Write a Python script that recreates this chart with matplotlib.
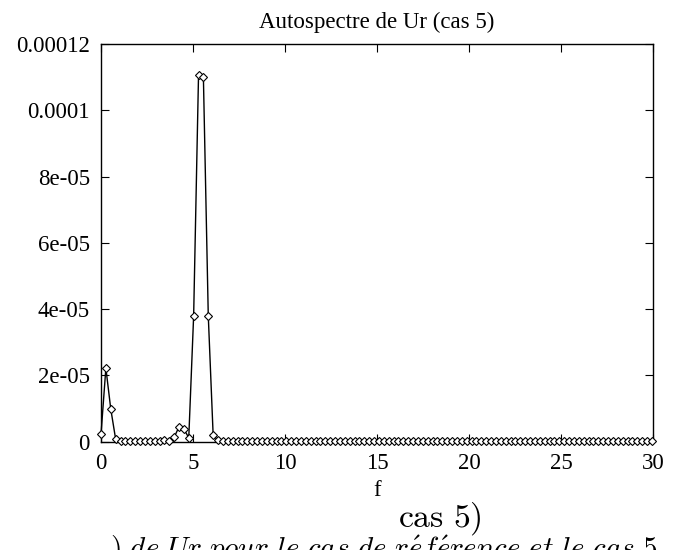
import numpy as np
import matplotlib
matplotlib.use("Agg")
import matplotlib.pyplot as plt

plt.rcParams["mathtext.fontset"] = "cm"

# frequency step of the spectrum
df = 0.265

# autospectrum values (units of 1e-6)
psd_e6 = [
    2.2, 22.2, 9.9, 0.8, 0.3, 0.2, 0.2, 0.2, 0.2, 0.2,
    0.2, 0.3, 0.3, 0.5, 0.2, 1.3, 4.5, 3.8, 1.2, 38.0,
    110.5, 110.0, 38.0, 2.0, 0.4, 0.3, 0.3, 0.3, 0.3, 0.3,
    0.3, 0.3, 0.3, 0.3, 0.3, 0.3, 0.3, 0.3, 0.3, 0.3,
    0.3, 0.3, 0.3, 0.3, 0.3, 0.3, 0.3, 0.3, 0.3, 0.3,
    0.3, 0.3, 0.3, 0.3, 0.3, 0.3, 0.3, 0.3, 0.3, 0.3,
    0.3, 0.3, 0.3, 0.3, 0.3, 0.3, 0.3, 0.3, 0.3, 0.3,
    0.3, 0.3, 0.3, 0.3, 0.3, 0.3, 0.3, 0.3, 0.3, 0.3,
    0.3, 0.3, 0.3, 0.3, 0.3, 0.3, 0.3, 0.3, 0.3, 0.3,
    0.3, 0.3, 0.3, 0.3, 0.3, 0.3, 0.3, 0.3, 0.3, 0.3,
    0.3, 0.3, 0.3, 0.3, 0.3, 0.3, 0.3, 0.3, 0.3, 0.3,
    0.3, 0.3, 0.3, 0.3,
]
psd = np.array(psd_e6) * 1e-6
freq = np.arange(len(psd)) * df

xticks = [0, 5, 10, 15, 20, 25, 30]
yticks = [0, 2e-5, 4e-5, 6e-5, 8e-5, 1e-4, 1.2e-4]
ytick_labels = ["0", "2e-05", "4e-05", "6e-05", "8e-05", "0.0001", "0.00012"]

title = "Autospectre de Ur (cas 5)"
xlabel = "f"
caption_top = r"$\mathrm{cas\ 5)}$"
caption_bottom = r"$)\ de\ Ur\ pour\ le\ cas\ de\ r\acute{e}f\acute{e}rence\ et\ le\ cas\ 5$"

W, H = 677, 550
fig = plt.figure(figsize=(W / 100, H / 100), dpi=100)
serif = "Liberation Serif"
fs = 16.5

left, right, top, bottom = 101, 653, 44, 441.7
ax = fig.add_axes([left / W, 1 - bottom / H, (right - left) / W, (bottom - top) / H])

ax.plot(freq, psd, color="black", lw=1.0, marker="D", ms=4.2,
        mfc="white", mec="black", mew=0.8, clip_on=False, zorder=3)

ax.set_xlim(0, 30)
ax.set_ylim(0, 1.2e-4)
ax.set_xticks(xticks)
ax.set_xticklabels([str(t) for t in xticks], fontfamily=serif, fontsize=fs)
ax.set_yticks(yticks)
ax.set_yticklabels(ytick_labels, fontfamily=serif, fontsize=fs)
ax.tick_params(direction="in", length=6, width=0.8, top=True, right=True,
               pad=8, colors="black")
for s in ax.spines.values():
    s.set_linewidth(1.0)
    s.set_color("black")

fig.text(377 / W, 1 - 22 / H, title, ha="center", va="center",
         fontfamily=serif, fontsize=fs)
fig.text(377 / W, 1 - 490 / H, xlabel, ha="center", va="center",
         fontfamily=serif, fontsize=fs)

t1 = fig.text(440 / W, 1 - 519 / H, caption_top, ha="center", va="center",
              fontsize=22)
t2 = fig.text(110 / W, 1 - 558 / H, caption_bottom, ha="left", va="baseline",
              fontsize=20)

# scale the cut-off caption lines to their measured widths in the reference
fig.canvas.draw()
r = fig.canvas.get_renderer()
w2 = t2.get_window_extent(r).width
t2.set_fontsize(20 * 548 / w2)
w1 = t1.get_window_extent(r).width
t1.set_fontsize(22 * 84 / w1)

fig.savefig("out.png", dpi=100)
